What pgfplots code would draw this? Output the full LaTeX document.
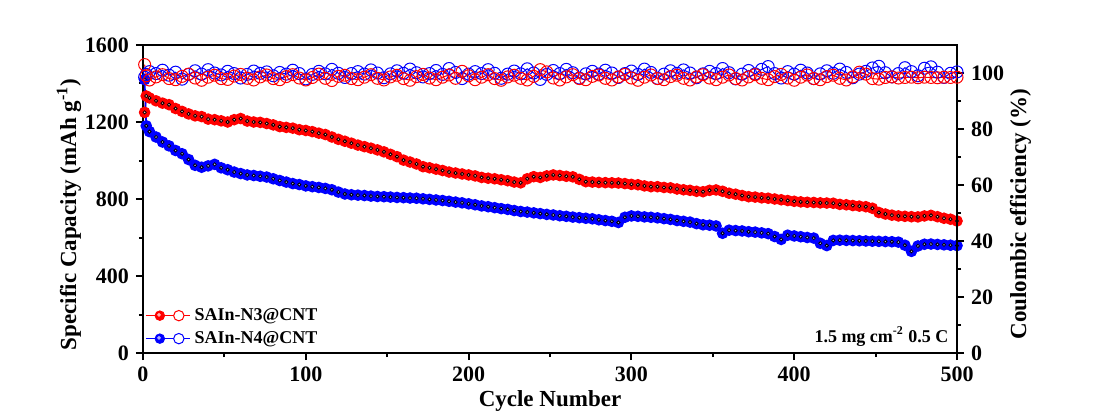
\documentclass[border=0pt]{standalone}
\usepackage{fontspec}
\setmainfont{Liberation Serif}
\usepackage{pgfplots}
\usepackage{pgfplotstable}
\pgfplotsset{compat=1.18}
\pgfplotstableread{
c rc bc re be
1 1250 1420 103.0 98.5
2 1335 1180 99.0 99.5
4 1325 1150 97.5 100.5
8 1310 1122 98.6 99.8
12 1298 1096 99.4 101.0
16 1290 1076 98.0 99.2
20 1270 1052 97.6 100.3
24 1255 1035 98.8 97.8
28 1242 1005 99.6 99.5
32 1232 975 98.2 100.8
36 1228 965 97.4 99.6
40 1215 972 98.5 101.2
44 1212 980 99.2 100.0
48 1206 962 98.0 99.3
52 1200 952 97.7 100.6
56 1212 940 98.9 99.8
60 1218 932 99.5 98.2
64 1205 925 98.1 99.5
68 1200 922 97.5 100.7
72 1198 918 98.6 99.9
76 1192 914 99.3 100.4
80 1185 905 98.0 99.0
84 1176 896 97.6 100.2
88 1172 888 98.7 99.6
92 1168 880 99.4 101.0
96 1160 875 98.2 99.8
100 1156 868 97.5 97.9
104 1150 864 98.4 99.5
108 1142 860 99.6 100.6
112 1135 855 98.1 99.7
116 1122 848 97.3 101.3
120 1110 836 98.8 99.9
124 1100 826 99.2 98.4
128 1090 822 98.0 99.8
132 1080 820 97.6 100.5
136 1072 818 98.5 99.6
140 1064 815 99.4 101.1
144 1055 813 98.1 100.0
148 1045 812 97.5 98.3
152 1032 810 98.6 99.7
156 1020 808 99.2 100.8
160 1002 807 98.0 99.9
164 992 805 97.4 101.4
168 982 804 98.7 100.1
172 968 801 99.5 98.6
176 962 798 98.2 99.8
180 955 795 97.6 100.9
184 948 792 98.5 99.5
188 940 788 99.3 101.6
192 935 784 98.1 100.2
196 930 780 100.6 98.0
200 925 775 99.0 99.6
204 920 770 97.6 100.5
208 912 764 98.5 99.8
212 908 760 99.4 101.2
216 905 755 98.0 99.9
220 900 750 97.4 98.1
224 895 746 98.6 99.6
228 888 740 99.2 100.7
232 884 735 98.1 99.7
236 905 732 97.5 101.5
240 916 728 98.8 100.0
244 912 724 101.2 97.7
248 920 720 100.4 99.5
252 925 717 98.2 100.9
256 922 713 97.5 99.8
260 918 710 98.6 101.3
264 915 706 99.4 100.1
268 902 703 98.0 98.2
272 890 700 97.6 99.7
276 888 697 98.8 100.6
280 886 692 99.3 99.6
284 885 688 98.1 101.0
288 884 684 97.5 100.0
292 883 678 98.6 98.4
296 880 705 99.5 99.8
300 876 712 98.2 100.7
304 874 710 97.4 99.5
308 868 707 98.5 101.4
312 864 705 99.3 100.2
316 864 702 98.0 98.1
320 860 698 97.6 99.6
324 858 694 98.7 100.8
328 852 688 99.2 99.9
332 848 684 98.1 101.1
336 845 680 97.5 100.0
340 840 672 98.6 98.3
344 838 666 99.4 99.7
348 845 664 98.2 100.6
352 847 660 97.6 99.8
356 840 622 98.5 101.6
360 830 638 99.3 100.1
364 825 636 98.0 97.9
368 818 634 97.5 99.6
372 812 630 98.6 100.9
376 810 628 99.4 99.7
380 806 624 98.1 101.3
384 804 620 97.6 102.3
388 800 605 98.7 99.8
392 796 590 99.5 98.2
396 792 612 98.2 100.5
400 788 608 97.4 99.6
404 785 604 98.5 101.0
408 783 600 99.3 100.0
412 782 597 98.0 98.0
416 780 570 97.6 99.7
420 779 558 98.7 100.8
424 778 585 99.2 99.9
428 772 586 98.1 101.4
432 770 585 97.5 100.2
436 766 584 98.6 98.3
440 763 583 100.3 99.6
444 760 582 99.6 100.6
448 752 581 98.0 101.8
452 730 580 97.8 102.4
456 722 579 98.4 100.1
460 716 578 98.6 98.6
464 712 576 98.2 99.8
468 710 560 98.4 101.9
472 708 528 98.5 100.5
476 707 556 98.3 99.0
480 712 565 98.5 101.7
484 715 566 98.4 102.2
488 708 564 98.3 100.3
492 700 562 98.5 98.4
496 695 560 98.4 99.9
500 686 558 98.5 100.4
}\data

\pgfplotsset{
  common/.style={
    scale only axis, width=407pt, height=154pt,
    xmin=0, xmax=500,
    tick align=outside,
    axis line style={line width=1pt},
    every tick/.style={black, line width=1pt},
    major tick length=3.5pt, minor tick length=2pt,
    ticklabel style={font=\bfseries\fontsize{11}{12}\selectfont},
    /pgf/number format/assume math mode=true,
    /pgf/number format/set thousands separator={},
    label style={font=\bfseries\fontsize{11.5}{13}\selectfont},
  }
}

\begin{document}
\begin{tikzpicture}
\begin{axis}[common, name=main,
  ymin=0, ymax=1600,
  xtick={0,100,...,500}, ytick={0,400,...,1600},
  minor x tick num=1, minor y tick num=1,
  xtick pos=lower, ytick pos=left,
  xlabel={Cycle Number},
  ylabel={Specific Capacity (mAh g\textsuperscript{-1})},
  every axis y label/.append style={at={(ticklabel cs:0.45,-5pt)}},
  every axis x label/.append style={yshift=2.5pt},
  legend style={at={(0.002,0.008)}, anchor=south west, draw=none, fill=none,
    font=\bfseries\fontsize{9}{10}\selectfont, row sep=0pt, inner sep=0pt,
    /tikz/every even column/.append style={column sep=0pt}},
  legend cell align=left,
]
\addlegendimage{legend image code/.code={
  \draw[red, line width=0.8pt] (0pt,0pt) -- (22pt,0pt);
  \fill[red] (7pt,0pt) circle (2.4pt);
  \fill[white!70!red] (6.6pt,0.4pt) circle (0.7pt);
  \draw[red, fill=white, line width=0.5pt] (16.5pt,0pt) circle (2.6pt);}}
\addlegendentry{SAIn-N3@CNT}
\addlegendimage{legend image code/.code={
  \draw[blue, line width=0.8pt] (0pt,0pt) -- (22pt,0pt);
  \fill[blue] (7pt,0pt) circle (2.4pt);
  \fill[white!70!blue] (6.6pt,0.4pt) circle (0.7pt);
  \draw[blue, fill=white, line width=0.5pt] (16.5pt,0pt) circle (2.6pt);}}
\addlegendentry{SAIn-N4@CNT}
\addplot[forget plot, red, line width=0.8pt, mark=*, mark size=2.5pt,
  mark options={draw=red, fill=red}] table[x=c, y=rc] {\data};
\addplot[forget plot, only marks, mark=*, mark size=0.8pt,
  mark options={draw=none, fill=white!70!red}] table[x=c, y=rc] {\data};
\addplot[forget plot, blue, line width=0.8pt, mark=*, mark size=2.5pt,
  mark options={draw=blue, fill=blue}] table[x=c, y=bc] {\data};
\addplot[forget plot, only marks, mark=*, mark size=0.8pt,
  mark options={draw=none, fill=white!70!blue}] table[x=c, y=bc] {\data};
\node[anchor=south east, inner sep=0pt, font=\bfseries\fontsize{9}{10}\selectfont]
  at (rel axis cs:0.99,0.02) {1.5 mg cm\textsuperscript{-2} 0.5 C};
\end{axis}
\begin{axis}[common,
  ymin=0, ymax=110,
  axis y line*=right, axis x line=none,
  ytick={0,20,...,100}, minor y tick num=1,
  ylabel={Coulombic efficiency (\%)},
  every axis y label/.append style={at={(ticklabel cs:0.45,-4pt)}},
]
\addplot[blue, line width=0.5pt, mark=o, mark size=3pt,
  mark options={draw=blue, fill=white, line width=0.5pt}] table[x=c, y=be] {\data};
\addplot[red, line width=0.5pt, mark=o, mark size=3pt,
  mark options={draw=red, fill=white, line width=0.5pt}] table[x=c, y=re] {\data};
\end{axis}
\pgfresetboundingbox
\path[use as bounding box] ([shift={(-71.5pt,-29.5pt)}]main.south west) rectangle ([shift={(71.5pt,22.5pt)}]main.north east);
\end{tikzpicture}
\end{document}
